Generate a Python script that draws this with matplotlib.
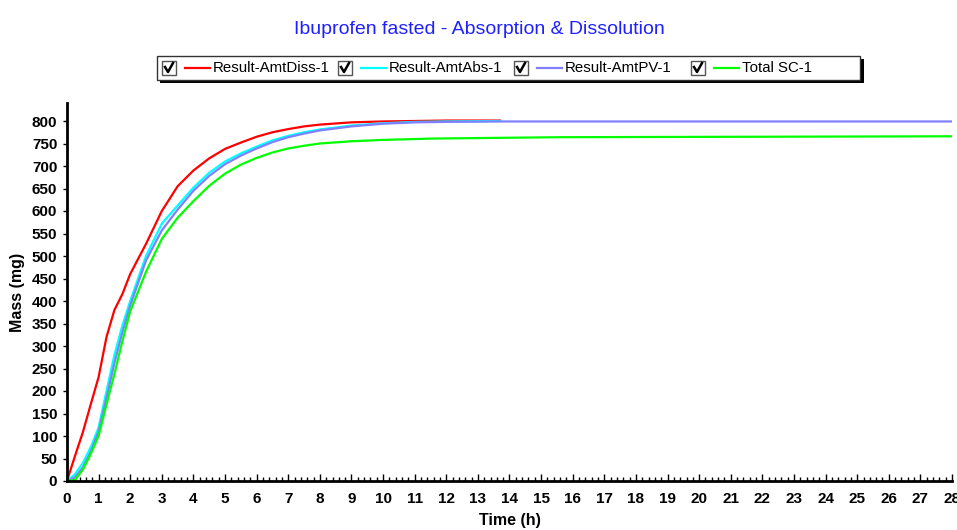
import numpy as np
import matplotlib
matplotlib.use("Agg")
import matplotlib.pyplot as plt
from matplotlib.patches import Rectangle
from matplotlib.lines import Line2D

# data
t_diss = [0, 0.25, 0.5, 0.75, 1, 1.25, 1.5, 1.75, 2, 2.5, 3, 3.5, 4, 4.5, 5, 5.5,
          6, 6.5, 7, 7.5, 8, 9, 10, 11, 12, 13.7]
amt_diss = [0, 55, 108, 170, 231, 320, 380, 415, 460, 527, 600, 655, 690, 717, 738, 752,
            765, 775, 782, 788, 792, 797, 799, 800, 801, 801]

t_abs = [0, 0.25, 0.5, 0.75, 1, 1.25, 1.5, 1.75, 2, 2.5, 3, 3.5, 4, 4.5, 5, 5.5,
         6, 6.5, 7, 7.5, 8, 9, 10, 11, 12, 13.7]
amt_abs = [0, 15, 40, 75, 119, 200, 280, 345, 400, 500, 572, 612, 652, 685, 710, 728,
           743, 757, 767, 775, 781, 790, 795, 798, 799, 800]

t_pv = [0, 0.25, 0.5, 0.75, 1, 1.25, 1.5, 1.75, 2, 2.5, 3, 3.5, 4, 4.5, 5, 5.5,
        6, 6.5, 7, 7.5, 8, 9, 10, 11, 12, 13.7, 28]
amt_pv = [0, 8, 30, 65, 110, 185, 262, 330, 390, 490, 557, 603, 645, 678, 704, 723,
          739, 753, 764, 772, 779, 788, 794, 797, 798, 799, 799]

t_sc = [0, 0.25, 0.5, 0.75, 1, 1.25, 1.5, 1.75, 2, 2.5, 3, 3.5, 4, 4.5, 5, 5.5,
        6, 6.5, 7, 7.5, 8, 9, 10, 11.6, 15.6, 28]
total_sc = [0, 2, 25, 60, 100, 170, 238, 310, 377, 465, 538, 585, 622, 656, 683, 703,
            718, 730, 739, 745, 750, 755, 758, 761, 764, 766]

series = [
    ("Result-AmtDiss-1", t_diss, amt_diss, "#ff0000"),
    ("Result-AmtAbs-1", t_abs, amt_abs, "#00ffff"),
    ("Result-AmtPV-1", t_pv, amt_pv, "#8080ff"),
    ("Total SC-1", t_sc, total_sc, "#00ff00"),
]

W, H = 957, 530
fig = plt.figure(figsize=(W / 100, H / 100), dpi=100)
plt.rcParams['font.family'] = ['Liberation Sans', 'DejaVu Sans']

def fx(x):
    return x / W

def fy(y):
    return 1 - y / H

ax = fig.add_axes([fx(67), fy(481), (952 - 67) / W, (481 - 103) / H])
for name, t, v, c in series:
    ax.plot(t, v, color=c, lw=1.6)

ax.set_xlim(0, 28)
ax.set_ylim(0, 840)
ax.set_xticks(np.arange(0, 29, 1))
ax.set_xticks(np.arange(0, 28.01, 0.2), minor=True)
ax.set_yticks(np.arange(0, 801, 50))
ax.spines['top'].set_visible(False)
ax.spines['right'].set_visible(False)
ax.spines['left'].set_linewidth(2)
ax.spines['bottom'].set_linewidth(2)
ax.tick_params(axis='x', which='major', direction='in', length=5, width=1, pad=8)
ax.tick_params(axis='x', which='minor', direction='in', length=3, width=1)
ax.tick_params(axis='y', which='major', direction='out', length=3, width=1, pad=4)
for lab in ax.get_xticklabels() + ax.get_yticklabels():
    lab.set_fontweight('bold')
    lab.set_fontsize(11)
ax.set_xlabel("Time (h)", fontsize=11.5, fontweight='bold', labelpad=5)
ax.set_ylabel("Mass (mg)", fontsize=11.5, fontweight='bold', labelpad=5)

fig.text(fx(479), fy(30), "Ibuprofen fasted - Absorption & Dissolution",
         color="#2020ff", fontsize=14, ha='center', va='center')

# legend box with shadow
fig.patches.append(Rectangle((fx(160), fy(83)), (864 - 160) / W, (83 - 59) / H,
                             transform=fig.transFigure, facecolor='black',
                             edgecolor='black', lw=0))
fig.patches.append(Rectangle((fx(157), fy(80)), (860 - 157) / W, (80 - 56) / H,
                             transform=fig.transFigure, facecolor='white',
                             edgecolor='#333333', lw=1))

box_x = [162, 338, 514, 691]
ly = 68
for (name, t, v, c), bx in zip(series, box_x):
    fig.patches.append(Rectangle((fx(bx), fy(ly + 7)), 14 / W, 14 / H,
                                 transform=fig.transFigure, facecolor='white',
                                 edgecolor='#555555', lw=1))
    fig.lines.append(Line2D([fx(bx + 3), fx(bx + 6), fx(bx + 11)],
                            [fy(ly - 1), fy(ly + 4), fy(ly - 5)],
                            transform=fig.transFigure, color='black', lw=1.8))
    fig.lines.append(Line2D([fx(bx + 23), fx(bx + 48)], [fy(ly), fy(ly)],
                            transform=fig.transFigure, color=c, lw=1.6))
    fig.text(fx(bx + 51), fy(ly), name, fontsize=10.8, ha='left', va='center')

fig.savefig("out.png", dpi=100)
